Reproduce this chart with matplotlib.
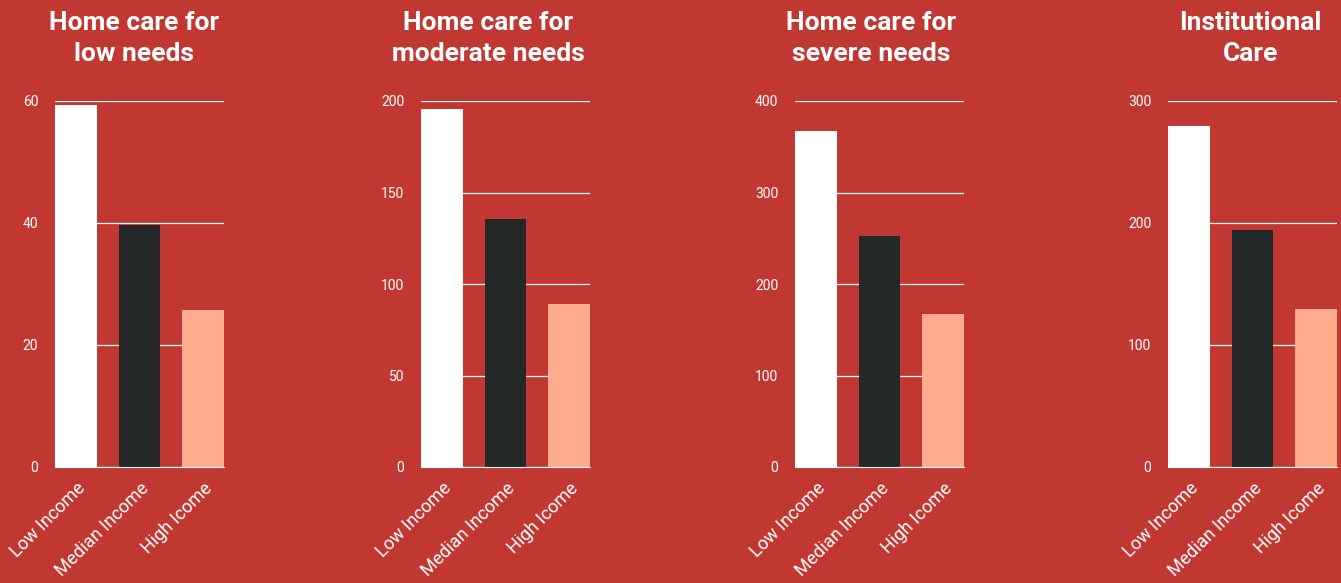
import matplotlib.pyplot as plt

plt.rcParams['font.family'] = ['Roboto', 'DejaVu Sans']

bg = '#c13832'
colors = ['#ffffff', '#252828', '#ffab8e']

categories = ['Low Income', 'Median Income', 'High Icome']
titles = ['Home care for\nlow needs', 'Home care for\nmoderate needs',
          'Home care for\nsevere needs', 'Institutional\nCare']
low_needs = [59.3, 39.7, 25.7]
moderate_needs = [195.5, 135.5, 89]
severe_needs = [367, 252.5, 167]
institutional = [279.5, 194, 129.5]
series = [low_needs, moderate_needs, severe_needs, institutional]
yticks = [[0, 20, 40, 60], [0, 50, 100, 150, 200],
          [0, 100, 200, 300, 400], [0, 100, 200, 300]]

W, H = 1341, 583
fig = plt.figure(figsize=(W / 100, H / 100), dpi=100, facecolor=bg)

lefts = [55, 421, 795, 1168]
title_shift = [-5, -17, -8, -2]  # px, titles are not quite centred on the axes
for i in range(4):
    ax = fig.add_axes([lefts[i] / W, (H - 467) / H, 169 / W, 366 / H])
    ax.set_facecolor(bg)
    ax.bar(range(3), series[i], width=0.66, color=colors, zorder=3)
    ax.set_xlim(-0.33, 2.33)
    ax.set_ylim(0, yticks[i][-1])
    ax.set_yticks(yticks[i])
    ax.set_yticklabels([str(t) for t in yticks[i]], color='white',
                       fontsize=10)
    ax.set_xticks(range(3))
    ax.set_xticklabels(categories, rotation=45, ha='right',
                       rotation_mode='anchor', color='white', fontsize=13)
    ax.tick_params(length=0, pad=9)
    ax.tick_params(axis='y', pad=12)
    ax.grid(axis='y', color='white', linewidth=0.9, zorder=0)
    for s in ['left', 'right', 'top']:
        ax.spines[s].set_visible(False)
    ax.spines['bottom'].set_color('white')
    ax.spines['bottom'].set_zorder(4)
    ax.set_title(titles[i], color='white', fontsize=19, fontweight='bold',
                 pad=29, linespacing=1.35, x=0.5 + title_shift[i] / 169)

fig.savefig('out.png', dpi=100, facecolor=bg)
